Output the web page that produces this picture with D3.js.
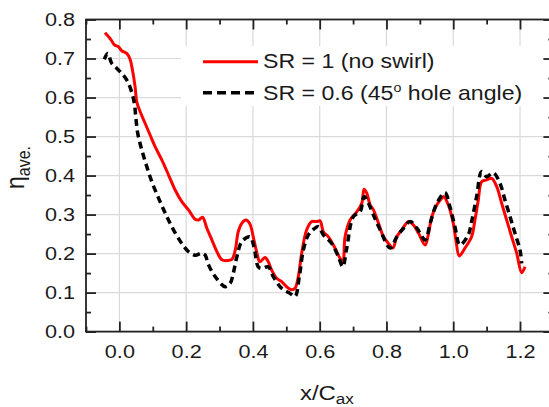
<!DOCTYPE html>
<html><head><meta charset="utf-8">
<script src="https://cdn.jsdelivr.net/npm/d3@7/dist/d3.min.js"></script>
<style>body{margin:0;background:#fff}svg{display:block}text{font-family:"Liberation Sans",Arial,sans-serif;fill:#1a1a1a}</style>
</head><body><svg id="c" width="549" height="407"></svg>
<script>
// Series: SR = 1 (no swirl)
const redX = [-0.043,-0.025,-0.015,-0.003,0.007,0.022,0.032,0.039,0.047,0.052,0.062,0.077,0.092,0.107,0.127,0.147,0.167,0.187,0.207,0.227,0.237,0.249,0.262,0.277,0.292,0.307,0.322,0.337,0.347,0.356,0.367,0.379,0.391,0.401,0.411,0.421,0.436,0.446,0.456,0.471,0.486,0.501,0.516,0.526,0.536,0.546,0.561,0.576,0.591,0.601,0.611,0.626,0.641,0.656,0.669,0.676,0.691,0.711,0.726,0.733,0.741,0.751,0.761,0.776,0.791,0.806,0.819,0.831,0.846,0.866,0.881,0.896,0.916,0.926,0.936,0.951,0.966,0.972,0.985,1.000,1.008,1.018,1.035,1.055,1.065,1.075,1.085,1.100,1.115,1.130,1.145,1.160,1.175,1.190,1.205,1.215];
const redY = [0.766,0.748,0.735,0.730,0.720,0.713,0.698,0.671,0.628,0.589,0.564,0.534,0.504,0.474,0.440,0.402,0.363,0.333,0.312,0.288,0.286,0.293,0.265,0.235,0.205,0.184,0.182,0.185,0.209,0.256,0.278,0.286,0.276,0.243,0.205,0.179,0.190,0.179,0.158,0.137,0.128,0.115,0.107,0.111,0.141,0.201,0.261,0.282,0.282,0.284,0.256,0.243,0.222,0.196,0.179,0.243,0.286,0.307,0.329,0.365,0.355,0.325,0.312,0.278,0.243,0.226,0.214,0.243,0.261,0.282,0.273,0.252,0.222,0.252,0.295,0.325,0.342,0.346,0.325,0.278,0.235,0.194,0.214,0.243,0.286,0.337,0.384,0.389,0.393,0.372,0.329,0.286,0.243,0.201,0.151,0.166];
// Series: SR = 0.6 (45° hole angle)
const blkX = [-0.045,-0.035,-0.023,-0.008,0.007,0.022,0.035,0.045,0.049,0.055,0.067,0.082,0.099,0.122,0.142,0.162,0.187,0.207,0.227,0.247,0.257,0.267,0.287,0.317,0.332,0.341,0.352,0.367,0.391,0.403,0.416,0.426,0.446,0.461,0.486,0.511,0.526,0.539,0.551,0.566,0.581,0.596,0.611,0.636,0.656,0.669,0.681,0.701,0.721,0.733,0.746,0.761,0.781,0.811,0.831,0.851,0.871,0.891,0.916,0.931,0.951,0.975,0.990,1.005,1.020,1.045,1.055,1.070,1.085,1.100,1.120,1.140,1.155,1.170,1.185,1.200,1.205];
const blkY = [0.698,0.713,0.688,0.675,0.662,0.645,0.619,0.585,0.551,0.508,0.466,0.423,0.380,0.333,0.295,0.261,0.226,0.205,0.196,0.201,0.196,0.171,0.141,0.115,0.124,0.149,0.192,0.231,0.243,0.218,0.166,0.162,0.166,0.141,0.111,0.098,0.090,0.141,0.209,0.248,0.262,0.269,0.248,0.226,0.192,0.166,0.214,0.295,0.307,0.346,0.329,0.299,0.261,0.214,0.243,0.265,0.282,0.265,0.235,0.278,0.329,0.356,0.320,0.269,0.222,0.248,0.282,0.346,0.410,0.397,0.407,0.380,0.337,0.295,0.252,0.209,0.175];
const xTicks = [0.0,0.2,0.4,0.6,0.8,1.0,1.2];
const xMinor = [-0.1,0.1,0.3,0.5,0.7,0.9,1.1,1.3];
const yTicks = [0.0,0.1,0.2,0.3,0.4,0.5,0.6,0.7,0.8];
const yMinor = [0.05,0.15,0.25,0.35,0.45,0.55,0.65,0.75];
const legendLabels = ["SR = 1 (no swirl)", "SR = 0.6 (45"];

const SX = 1.14; // horizontal text stretch seen in the reference
const svg = d3.select("#c");
const L=86, R=553.4, T=19.5, B=331.6;
const x = d3.scaleLinear().domain([-0.1,1.3]).range([L,R]);
const y = d3.scaleLinear().domain([0,0.8]).range([B,T]);
const fmt = d3.format(".1f");
function stretch(sel){ sel.each(function(){ const t=d3.select(this); const ax=+t.attr("x")||0; t.attr("transform",`translate(${ax},0) scale(${SX},1) translate(${-ax},0)`); }); }

// grid
const g = svg.append("g");
g.selectAll("line.gx").data(xTicks).join("line").attr("x1",d=>x(d)).attr("x2",d=>x(d)).attr("y1",T).attr("y2",B).attr("stroke","#dadada").attr("stroke-width",1.2);
g.selectAll("line.gy").data(yTicks).join("line").attr("y1",d=>y(d)).attr("y2",d=>y(d)).attr("x1",L).attr("x2",R).attr("stroke","#dadada").attr("stroke-width",1.2);

// curves
const redData = redX.map((d,i)=>[d,redY[i]]);
const blkData = blkX.map((d,i)=>[d,blkY[i]]);
const line = d3.line().x(d=>x(d[0])).y(d=>y(d[1])).curve(d3.curveCatmullRom.alpha(0.5));
svg.append("path").datum(redData).attr("d",line).attr("fill","none").attr("stroke","#ff0000").attr("stroke-width",3).attr("stroke-linejoin","round");
svg.append("path").datum(blkData).attr("d",line).attr("fill","none").attr("stroke","#000").attr("stroke-width",3.5).attr("stroke-dasharray","7,4.5");

// legend
const lg = svg.append("g");
lg.append("rect").attr("x",181).attr("y",46).attr("width",368).attr("height",60).attr("fill","#fff");
lg.append("line").attr("x1",203).attr("x2",258).attr("y1",61.7).attr("y2",61.7).attr("stroke","#ff0000").attr("stroke-width",3);
lg.append("line").attr("x1",203).attr("x2",258).attr("y1",92.7).attr("y2",92.7).attr("stroke","#000").attr("stroke-width",3.5).attr("stroke-dasharray","9,5");
lg.append("text").attr("x",263).attr("y",68.5).attr("font-size",20.3).text(legendLabels[0]).call(stretch);
const t2 = lg.append("text").attr("x",263).attr("y",100).attr("font-size",20.3);
t2.append("tspan").text(legendLabels[1]);
t2.append("tspan").attr("font-size",12.5).attr("dy",-7.5).text("o");
t2.append("tspan").attr("font-size",20.3).attr("dy",7.5).text(" hole angle)");
t2.call(stretch);

// axes
function style(sel){ sel.select(".domain").remove(); sel.selectAll("line").attr("stroke","#222").attr("stroke-width",1.8); sel.selectAll("text").attr("font-size",19).attr("fill","#1a1a1a").style("font-family","Liberation Sans, Arial, sans-serif").call(stretch); }
svg.append("g").attr("transform",`translate(0,${B})`).call(d3.axisBottom(x).tickValues(xTicks).tickFormat(fmt).tickSize(-10).tickPadding(13)).call(style);
svg.append("g").attr("transform",`translate(0,${B})`).call(d3.axisBottom(x).tickValues(xMinor).tickFormat("").tickSize(-5)).call(style);
svg.append("g").attr("transform",`translate(0,${T})`).call(d3.axisTop(x).tickValues(xTicks).tickFormat("").tickSize(-10)).call(style);
svg.append("g").attr("transform",`translate(0,${T})`).call(d3.axisTop(x).tickValues(xMinor).tickFormat("").tickSize(-5)).call(style);
svg.append("g").attr("transform",`translate(${L},0)`).call(d3.axisLeft(y).tickValues(yTicks).tickFormat(fmt).tickSize(-10).tickPadding(11)).call(style);
svg.append("g").attr("transform",`translate(${L},0)`).call(d3.axisLeft(y).tickValues(yMinor).tickFormat("").tickSize(-5)).call(style);
svg.append("g").attr("transform",`translate(${R},0)`).call(d3.axisRight(y).tickValues(yTicks).tickFormat("").tickSize(-10)).call(style);
svg.append("g").attr("transform",`translate(${R},0)`).call(d3.axisRight(y).tickValues(yMinor).tickFormat("").tickSize(-5)).call(style);
svg.append("rect").attr("x",L).attr("y",T).attr("width",R-L).attr("height",B-T).attr("fill","none").attr("stroke","#222").attr("stroke-width",1.8);

// axis titles
const xt = svg.append("text").attr("x",300).attr("y",400).attr("font-size",21);
xt.append("tspan").text("x/C");
xt.append("tspan").attr("font-size",15).attr("dy",4).text("ax");
xt.call(stretch);
const yt = svg.append("text").attr("transform",`translate(24,189) scale(${SX},1) rotate(-90)`).attr("font-size",23);
yt.append("tspan").text("η");
yt.append("tspan").attr("font-size",16).attr("dy",5).text("ave.");
</script></body></html>
